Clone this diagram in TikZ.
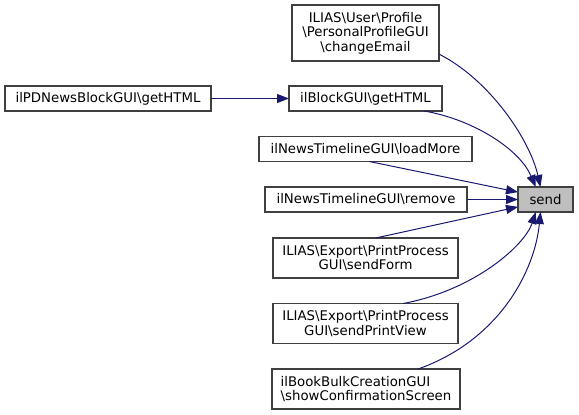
\documentclass[tikz,border=0pt]{standalone}
\usepackage{fontspec}
\setmainfont{DejaVu Sans}
\usetikzlibrary{arrows.meta}
\definecolor{edgeblue}{HTML}{191970}
\definecolor{boxline}{HTML}{404040}
\definecolor{sendfill}{HTML}{BFBFBF}
\tikzset{
  fn/.style={draw=boxline, fill=white, line width=1.3pt, inner sep=0pt, outer sep=0pt,
    font=\fontsize{13.3}{14.6}\selectfont, align=center},
  call/.style={draw=edgeblue, line width=1pt, -{Triangle[length=12pt,width=9pt]}}
}
\begin{document}
\begin{tikzpicture}[x=1pt,y=-1pt]
\useasboundingbox (0,0) rectangle (579,415);
\node[fn, fill=sendfill, minimum width=55pt, minimum height=25pt] (send) at (545.5,199.5) {send};
\node[fn, minimum width=147pt, minimum height=56pt] (chg) at (365.5,33) {ILIAS\textbackslash User\textbackslash Profile\\\textbackslash PersonalProfileGUI\\\textbackslash changeEmail};
\node[fn, minimum width=153pt, minimum height=25pt] (blk) at (365.5,98.5) {ilBlockGUI\textbackslash getHTML};
\node[fn, minimum width=206pt, minimum height=25pt] (pdn) at (108,98.5) {ilPDNewsBlockGUI\textbackslash getHTML};
\node[fn, minimum width=213pt, minimum height=25pt] (lm) at (365.5,149) {ilNewsTimelineGUI\textbackslash loadMore};
\node[fn, minimum width=202pt, minimum height=25pt] (rm) at (366,199.5) {ilNewsTimelineGUI\textbackslash remove};
\node[fn, minimum width=185pt, minimum height=40pt] (sf) at (365.5,258) {ILIAS\textbackslash Export\textbackslash PrintProcess\\GUI\textbackslash sendForm};
\node[fn, minimum width=185pt, minimum height=40pt] (spv) at (365.5,323.5) {ILIAS\textbackslash Export\textbackslash PrintProcess\\GUI\textbackslash sendPrintView};
\node[fn, minimum width=188pt, minimum height=40pt, align=left] (scs) at (366,389) {ilBookBulkCreationGUI\\\textbackslash showConfirmationScreen};

\draw[call] (pdn.east) -- (blk.west);
\draw[call] (chg.-16) .. controls (490,80) and (530,140) .. (send.112);
\draw[call] (blk.-12) .. controls (475,120) and (520,150) .. (send.128);
\draw[call] (lm.-73) -- (send.165);
\draw[call] (rm.east) -- (send.west);
\draw[call] (sf.63) -- (send.195);
\draw[call] (spv.28) .. controls (475,290) and (525,245) .. (send.232);
\draw[call] (scs.21) .. controls (500,340) and (535,270) .. (send.248);
\end{tikzpicture}
\end{document}
